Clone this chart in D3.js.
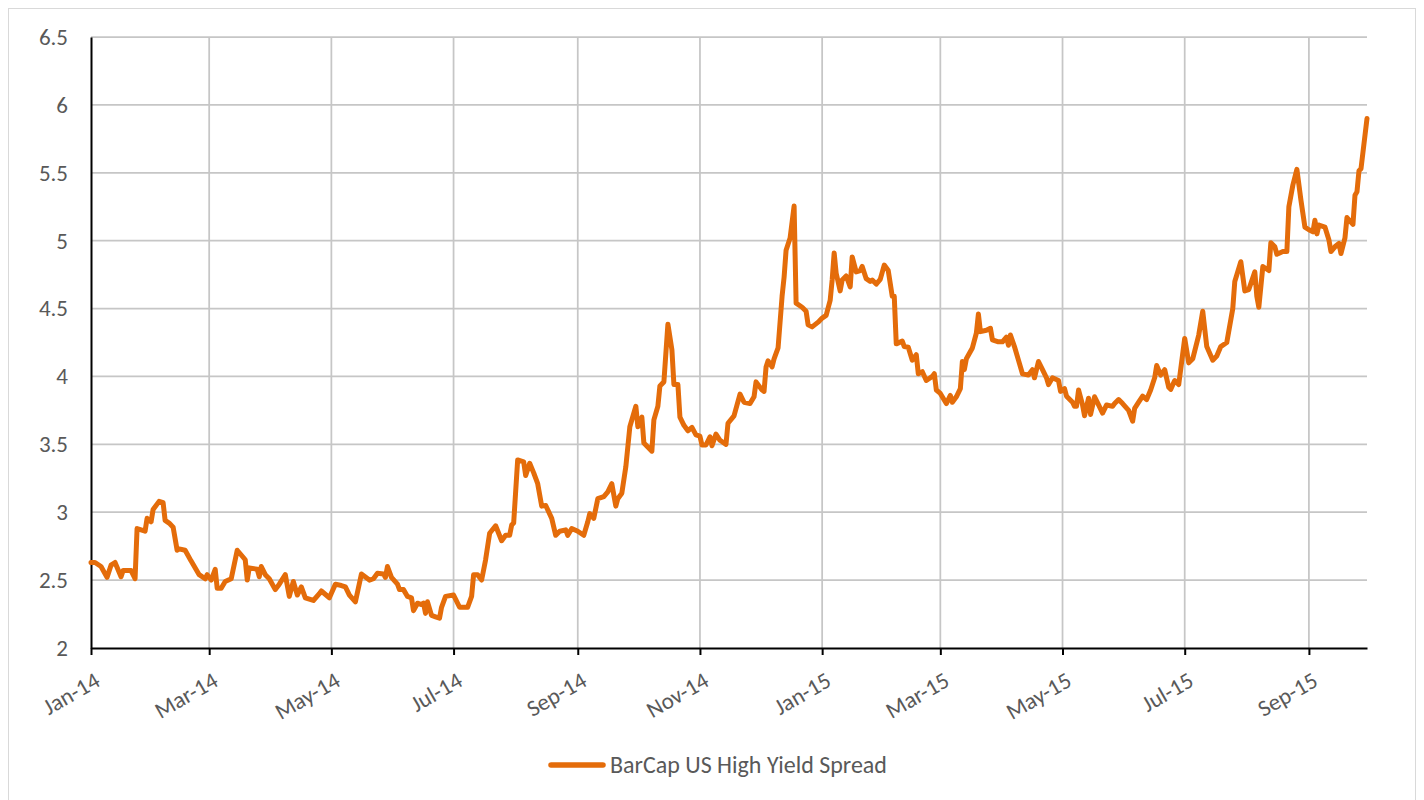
<!DOCTYPE html>
<html>
<head>
<meta charset="utf-8">
<script src="https://cdn.jsdelivr.net/npm/d3@7"></script>
<style>
  html, body { margin: 0; padding: 0; background: #fff; }
  svg { display: block; }
  text { font-family: Carlito, Calibri, Lato, "Open Sans", sans-serif; fill: #595959; }
</style>
</head>
<body>
<svg id="chart" width="1424" height="800"></svg>
<script>
// Observation dates (YYYY-MM-DD) and spread levels (%)
const dates = [
  "2014-01-01","2014-01-03","2014-01-06","2014-01-09","2014-01-11","2014-01-13","2014-01-16","2014-01-17","2014-01-21","2014-01-23",
  "2014-01-24","2014-01-28","2014-01-29","2014-01-31","2014-02-01","2014-02-04","2014-02-06","2014-02-07","2014-02-09","2014-02-11",
  "2014-02-13","2014-02-14","2014-02-17","2014-02-20","2014-02-24","2014-02-27","2014-02-28","2014-03-02","2014-03-04","2014-03-05",
  "2014-03-07","2014-03-09","2014-03-12","2014-03-15","2014-03-19","2014-03-20","2014-03-21","2014-03-25","2014-03-26","2014-03-27",
  "2014-03-29","2014-03-31","2014-04-03","2014-04-05","2014-04-08","2014-04-10","2014-04-12","2014-04-14","2014-04-16","2014-04-18",
  "2014-04-22","2014-04-25","2014-04-26","2014-04-30","2014-05-03","2014-05-06","2014-05-08","2014-05-10","2014-05-13","2014-05-16",
  "2014-05-20","2014-05-22","2014-05-24","2014-05-27","2014-05-28","2014-05-29","2014-05-31","2014-06-03","2014-06-04","2014-06-06",
  "2014-06-08","2014-06-10","2014-06-11","2014-06-13","2014-06-15","2014-06-16","2014-06-17","2014-06-18","2014-06-20","2014-06-22",
  "2014-06-24","2014-06-25","2014-06-27","2014-07-01","2014-07-02","2014-07-04","2014-07-08","2014-07-10","2014-07-11","2014-07-13",
  "2014-07-15","2014-07-17","2014-07-19","2014-07-22","2014-07-25","2014-07-27","2014-07-29","2014-07-30","2014-07-31","2014-08-02",
  "2014-08-05","2014-08-06","2014-08-08","2014-08-10","2014-08-12","2014-08-14","2014-08-16","2014-08-19","2014-08-21","2014-08-23",
  "2014-08-26","2014-08-27","2014-08-29","2014-09-01","2014-09-04","2014-09-06","2014-09-07","2014-09-09","2014-09-11","2014-09-14",
  "2014-09-16","2014-09-18","2014-09-20","2014-09-21","2014-09-23","2014-09-25","2014-09-27","2014-09-30","2014-10-01","2014-10-03",
  "2014-10-04","2014-10-08","2014-10-09","2014-10-11","2014-10-12","2014-10-14","2014-10-16","2014-10-18","2014-10-19","2014-10-21",
  "2014-10-22","2014-10-24","2014-10-26","2014-10-28","2014-10-30","2014-11-01","2014-11-02","2014-11-04","2014-11-06","2014-11-07",
  "2014-11-09","2014-11-11","2014-11-14","2014-11-15","2014-11-18","2014-11-21","2014-11-23","2014-11-26","2014-11-28","2014-11-29",
  "2014-12-02","2014-12-03","2014-12-04","2014-12-05","2014-12-07","2014-12-08","2014-12-10","2014-12-12","2014-12-13","2014-12-14",
  "2014-12-16","2014-12-18","2014-12-19","2014-12-22","2014-12-24","2014-12-25","2014-12-27","2014-12-30","2015-01-01","2015-01-03",
  "2015-01-05","2015-01-06","2015-01-07","2015-01-08","2015-01-10","2015-01-11","2015-01-13","2015-01-15","2015-01-16","2015-01-18",
  "2015-01-20","2015-01-21","2015-01-23","2015-01-25","2015-01-26","2015-01-28","2015-01-30","2015-02-01","2015-02-03","2015-02-05",
  "2015-02-06","2015-02-07","2015-02-10","2015-02-11","2015-02-13","2015-02-15","2015-02-17","2015-02-18","2015-02-20","2015-02-22",
  "2015-02-25","2015-02-26","2015-02-27","2015-03-01","2015-03-04","2015-03-06","2015-03-07","2015-03-09","2015-03-11","2015-03-12",
  "2015-03-13","2015-03-14","2015-03-17","2015-03-19","2015-03-20","2015-03-21","2015-03-24","2015-03-26","2015-03-27","2015-03-30",
  "2015-04-01","2015-04-03","2015-04-04","2015-04-05","2015-04-07","2015-04-09","2015-04-11","2015-04-14","2015-04-16","2015-04-17",
  "2015-04-19","2015-04-21","2015-04-23","2015-04-24","2015-04-26","2015-04-29","2015-04-30","2015-05-02","2015-05-03","2015-05-06",
  "2015-05-07","2015-05-08","2015-05-09","2015-05-11","2015-05-12","2015-05-14","2015-05-15","2015-05-17","2015-05-19","2015-05-21",
  "2015-05-23","2015-05-26","2015-05-27","2015-05-29","2015-05-31","2015-06-03","2015-06-05","2015-06-06","2015-06-08","2015-06-10",
  "2015-06-12","2015-06-14","2015-06-16","2015-06-17","2015-06-19","2015-06-21","2015-06-23","2015-06-24","2015-06-26","2015-06-28",
  "2015-07-01","2015-07-03","2015-07-05","2015-07-08","2015-07-10","2015-07-12","2015-07-15","2015-07-17","2015-07-19","2015-07-22",
  "2015-07-25","2015-07-26","2015-07-29","2015-07-31","2015-08-02","2015-08-05","2015-08-06","2015-08-07","2015-08-09","2015-08-12",
  "2015-08-13","2015-08-15","2015-08-16","2015-08-19","2015-08-21","2015-08-22","2015-08-24","2015-08-26","2015-08-28","2015-08-30",
  "2015-09-01","2015-09-03","2015-09-04","2015-09-05","2015-09-06","2015-09-09","2015-09-11","2015-09-12","2015-09-14","2015-09-16",
  "2015-09-17","2015-09-19","2015-09-20","2015-09-23","2015-09-24","2015-09-25","2015-09-26","2015-09-27","2015-09-30"
];

const spread = [
  2.63,2.63,2.60,2.52,2.61,2.63,2.525,2.57,2.57,2.51,
  2.88,2.86,2.955,2.93,3.02,3.08,3.07,2.94,2.92,2.89,
  2.72,2.73,2.72,2.64,2.54,2.51,2.54,2.50,2.58,2.44,
  2.44,2.49,2.51,2.72,2.65,2.50,2.59,2.58,2.525,2.60,
  2.54,2.51,2.43,2.47,2.54,2.38,2.49,2.39,2.45,2.37,
  2.35,2.40,2.42,2.37,2.47,2.46,2.45,2.39,2.34,2.545,
  2.50,2.51,2.55,2.545,2.52,2.60,2.52,2.47,2.43,2.43,
  2.38,2.37,2.275,2.33,2.32,2.33,2.255,2.34,2.24,2.23,
  2.22,2.30,2.38,2.39,2.36,2.30,2.30,2.38,2.54,2.54,
  2.50,2.65,2.845,2.90,2.79,2.83,2.83,2.905,2.92,3.385,
  3.37,3.27,3.36,3.29,3.21,3.045,3.05,2.955,2.83,2.86,
  2.87,2.83,2.88,2.86,2.83,2.93,2.99,2.955,3.10,3.115,
  3.15,3.21,3.045,3.10,3.14,3.335,3.63,3.78,3.63,3.70,
  3.51,3.45,3.68,3.78,3.93,3.96,4.385,4.195,3.94,3.94,
  3.70,3.64,3.60,3.625,3.57,3.56,3.495,3.495,3.555,3.49,
  3.575,3.53,3.50,3.655,3.71,3.87,3.81,3.80,3.85,3.96,
  3.90,3.89,4.07,4.115,4.07,4.13,4.21,4.59,4.73,4.93,
  5.02,5.255,4.54,4.51,4.48,4.38,4.365,4.40,4.43,4.45,
  4.56,4.71,4.91,4.76,4.63,4.71,4.74,4.66,4.88,4.77,
  4.78,4.81,4.72,4.70,4.71,4.68,4.715,4.82,4.78,4.59,
  4.59,4.24,4.26,4.22,4.215,4.12,4.16,4.02,4.035,3.97,
  4.00,4.02,3.90,3.875,3.80,3.86,3.81,3.85,3.91,4.11,
  4.05,4.13,4.21,4.32,4.46,4.33,4.34,4.355,4.27,4.255,
  4.255,4.29,4.23,4.305,4.22,4.12,4.02,4.01,4.05,3.99,
  4.11,4.05,3.99,3.94,3.99,3.97,3.89,3.91,3.855,3.81,
  3.78,3.78,3.90,3.79,3.71,3.84,3.72,3.85,3.79,3.73,
  3.79,3.78,3.80,3.83,3.80,3.75,3.67,3.765,3.81,3.855,
  3.83,3.90,3.99,4.08,4.01,4.05,3.92,3.905,3.97,3.94,
  4.28,4.10,4.13,4.305,4.48,4.22,4.12,4.15,4.22,4.25,
  4.50,4.70,4.845,4.63,4.64,4.77,4.59,4.51,4.81,4.78,
  4.985,4.955,4.90,4.92,4.92,5.25,5.41,5.525,5.30,5.10,
  5.08,5.065,5.15,5.05,5.115,5.10,5.005,4.92,4.955,4.98,
  4.905,5.02,5.17,5.12,5.335,5.36,5.515,5.53,5.90
];

const seriesName = "BarCap US High Yield Spread";
const yTicks = [2, 2.5, 3, 3.5, 4, 4.5, 5, 5.5, 6, 6.5];
const xStart = "2014-01-01";
const xEnd = "2015-09-30";

const parse = d3.utcParse("%Y-%m-%d");
const points = dates.map((d, i) => ({ date: parse(d), value: spread[i] }));

const svg = d3.select("#chart");
const plot = { left: 91, right: 1367, top: 37, bottom: 648 };
const lineColor = "#E46C0A";
const labelFont = "Carlito, Calibri, Lato, 'Open Sans', sans-serif";
const labelSize = 23;

// Outer chart frame
svg.append("rect")
  .attr("x", 8.5).attr("y", 8.5)
  .attr("width", 1407).attr("height", 820)
  .attr("fill", "#fff")
  .attr("stroke", "#d9d9d9")
  .attr("stroke-width", 1);

const x = d3.scaleUtc()
  .domain([parse(xStart), parse(xEnd)])
  .range([plot.left, plot.right]);

const y = d3.scaleLinear()
  .domain([2, 6.5])
  .range([plot.bottom, plot.top]);

const monthTicks = d3.utcMonth.every(2).range(parse(xStart), d3.utcDay.offset(parse(xEnd), 1));

// Horizontal gridlines
svg.append("g")
  .selectAll("line")
  .data(yTicks.filter(v => v > 2))
  .join("line")
  .attr("x1", plot.left).attr("x2", plot.right)
  .attr("y1", d => y(d)).attr("y2", d => y(d))
  .attr("stroke", "#c6c6c6")
  .attr("stroke-width", 1.75);

// Vertical gridlines
svg.append("g")
  .selectAll("line")
  .data(monthTicks.filter(d => x(d) > plot.left + 1))
  .join("line")
  .attr("x1", d => x(d)).attr("x2", d => x(d))
  .attr("y1", plot.top).attr("y2", plot.bottom)
  .attr("stroke", "#c6c6c6")
  .attr("stroke-width", 1.75);

// Y axis
const yAxis = svg.append("g")
  .attr("transform", `translate(${plot.left},0)`)
  .call(d3.axisLeft(y).tickValues(yTicks).tickSize(0).tickPadding(23).tickFormat(d3.format("")));
yAxis.select(".domain").attr("stroke", "#000").attr("stroke-width", 2);
yAxis.selectAll(".tick text")
  .attr("font-size", labelSize)
  .attr("fill", "#595959")
  .style("font-family", labelFont);

// X axis
const xAxis = svg.append("g")
  .attr("transform", `translate(0,${plot.bottom})`)
  .call(d3.axisBottom(x).tickValues(monthTicks).tickSize(7).tickSizeOuter(0).tickFormat(d3.utcFormat("%b-%y")));
xAxis.select(".domain").attr("stroke", "#000").attr("stroke-width", 2.2);
xAxis.selectAll(".tick line").attr("stroke", "#000").attr("stroke-width", 2);
xAxis.selectAll(".tick text")
  .attr("font-size", labelSize)
  .attr("fill", "#595959")
  .style("font-family", labelFont)
  .attr("text-anchor", "end")
  .attr("dy", 0)
  .attr("y", 0)
  .attr("transform", "translate(10,37) rotate(-30)");

// Series line
const line = d3.line()
  .x(d => x(d.date))
  .y(d => y(d.value))
  .curve(d3.curveLinear);

svg.append("path")
  .datum(points)
  .attr("d", line)
  .attr("fill", "none")
  .attr("stroke", lineColor)
  .attr("stroke-width", 5)
  .attr("stroke-linejoin", "round")
  .attr("stroke-linecap", "round");

// Legend
const legend = svg.append("g").attr("transform", "translate(551,765)");
legend.append("line")
  .attr("x1", 0).attr("x2", 52)
  .attr("y1", 0).attr("y2", 0)
  .attr("stroke", lineColor)
  .attr("stroke-width", 5.5)
  .attr("stroke-linecap", "round");
legend.append("text")
  .attr("x", 59).attr("y", 0)
  .attr("dy", "0.35em")
  .attr("font-size", 24)
  .attr("fill", "#595959")
  .style("font-family", labelFont)
  .text(seriesName);
</script>
</body>
</html>
